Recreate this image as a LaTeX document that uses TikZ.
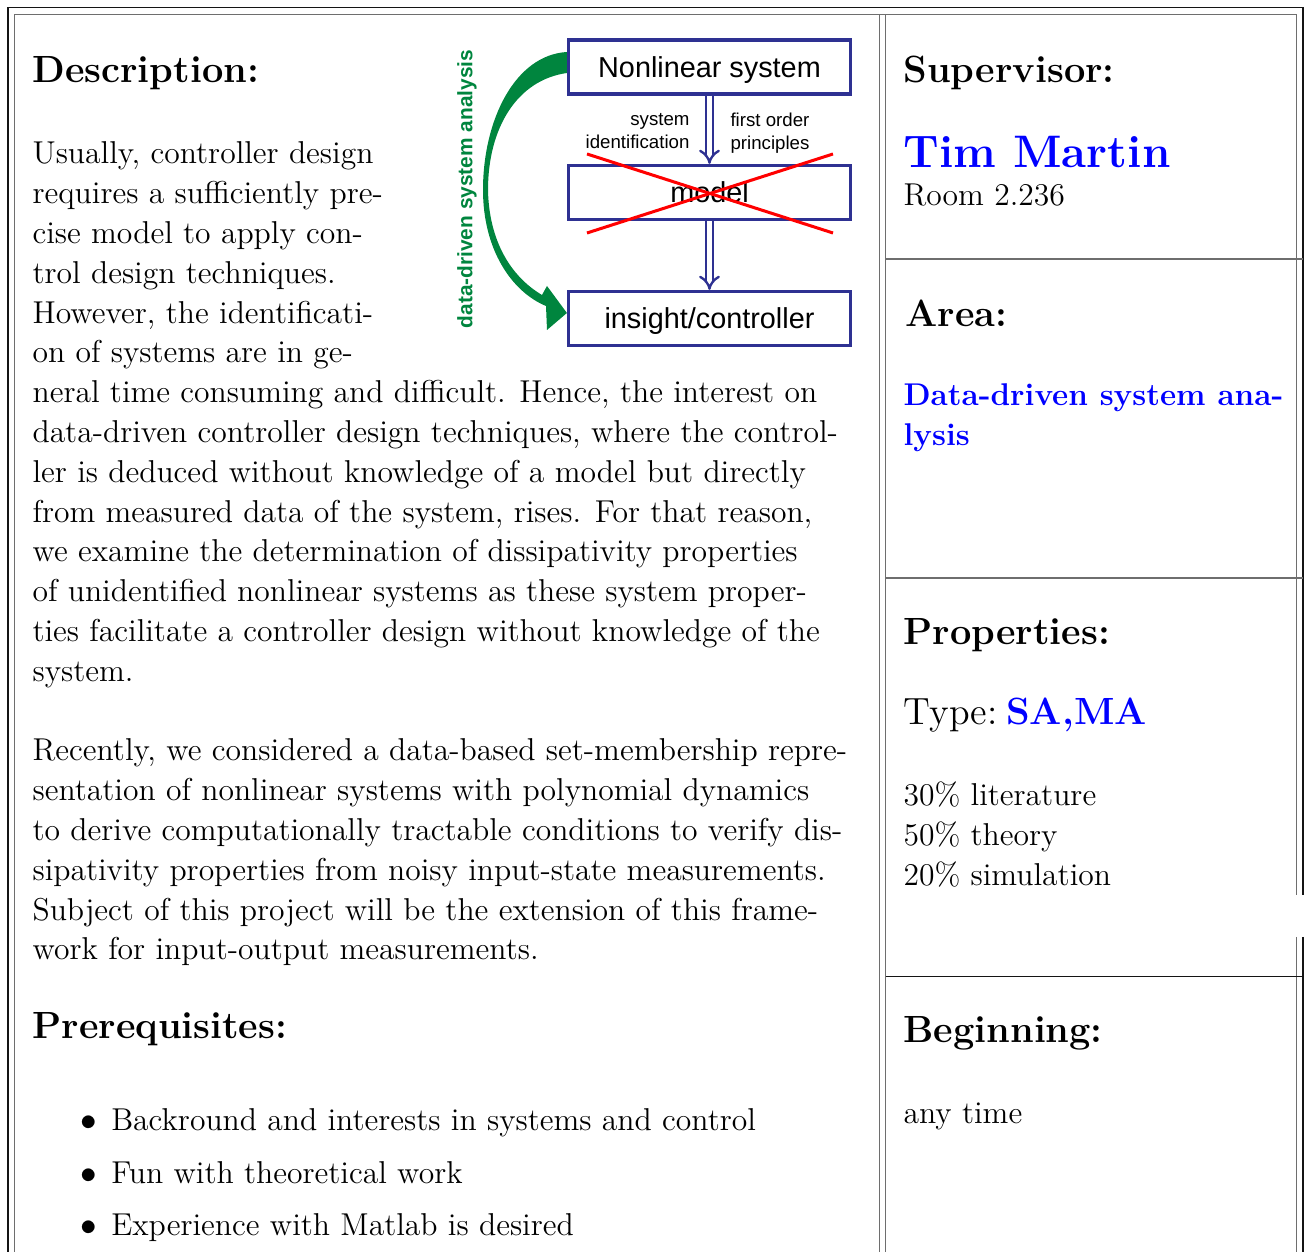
\documentclass[tikz,border=0pt]{standalone}
\usepackage{fontspec}
\newfontfamily\arialf{Liberation Sans}
\usetikzlibrary{arrows.meta}
\definecolor{navy}{RGB}{46,49,146}
\definecolor{dgreen}{RGB}{0,133,62}
\definecolor{frameA}{RGB}{20,20,20}
\definecolor{frameB}{RGB}{110,110,110}
\tikzset{
  body/.style={anchor=base west, inner sep=0pt, font=\fontsize{11.52}{14}\selectfont},
  head/.style={anchor=base west, inner sep=0pt, font=\fontsize{13.82}{17}\selectfont\bfseries},
  dbox/.style={draw=navy, line width=1.15pt, minimum width={282*0.3643pt}, minimum height={54*0.3643pt}, inner sep=0pt, text depth=0pt, font=\arialf\fontsize{10.5}{12}\selectfont},
  dlab/.style={inner sep=0pt, font=\arialf\fontsize{6.8}{8.4}\selectfont},
  dblarrow/.style={draw=navy, double=white, double distance=1.7pt, line width=0.85pt, -{Implies}},
  outerline/.style={draw=frameA, line width=0.5pt},
  innerline/.style={draw=frameB, line width=0.7pt},
}
\begin{document}
\begin{tikzpicture}[x=0.3643pt, y=-0.3643pt]
\useasboundingbox (0,0) rectangle (1307,1252);
% frame
\draw[outerline] (8,1252) -- (8,7.5) -- (1303,7.5) -- (1303,895);
\draw[outerline] (1303,937) -- (1303,1252);
\draw[innerline] (14.5,1252) -- (14.5,14.5) -- (1296.5,14.5) -- (1296.5,895);
\draw[innerline] (1296.5,937) -- (1296.5,1252);
\draw[innerline] (879.5,14.5) -- (879.5,1252);
\draw[innerline] (885.5,14.5) -- (885.5,1252);
\draw[innerline] (885.5,259) -- (1303,259);
\draw[innerline] (885.5,578) -- (1303,578);
\draw[outerline] (885.5,976.5) -- (1303,976.5);

% left column
\node[head] (hdesc) at (32,83) {Description:};
\node[body] (l1) at (32,164.0) {Usually, controller design};
\node[body] (l2) at (32,203.8) {requires a sufficiently pre-};
\node[body] (l3) at (32,243.6) {cise model to apply con-};
\node[body] (l4) at (32,283.4) {trol design techniques.};
\node[body] (l5) at (32,323.2) {However, the identificati-};
\node[body] (l6) at (32,363.0) {on of systems are in ge-};
\node[body] (l7) at (32,402.8) {neral time consuming and difficult. Hence, the interest on};
\node[body] (l8) at (32,442.6) {data-driven controller design techniques, where the control-};
\node[body] (l9) at (32,482.4) {ler is deduced without knowledge of a model but directly};
\node[body] (l10) at (32,522.2) {from measured data of the system, rises. For that reason,};
\node[body] (l11) at (32,562.0) {we examine the determination of dissipativity properties};
\node[body] (l12) at (32,601.8) {of unidentified nonlinear systems as these system proper-};
\node[body] (l13) at (32,641.6) {ties facilitate a controller design without knowledge of the};
\node[body] (l14) at (32,681.4) {system.};
\node[body] (r1) at (32,761.0) {Recently, we considered a data-based set-membership repre-};
\node[body] (r2) at (32,800.8) {sentation of nonlinear systems with polynomial dynamics};
\node[body] (r3) at (32,840.6) {to derive computationally tractable conditions to verify dis-};
\node[body] (r4) at (32,880.4) {sipativity properties from noisy input-state measurements.};
\node[body] (r5) at (32,920.2) {Subject of this project will be the extension of this frame-};
\node[body] (r6) at (32,960.0) {work for input-output measurements.};
\node[head] (hpre) at (32,1039) {Prerequisites:};
\node[body] (b1) at (80,1131) {$\bullet$\hspace{5.2pt}Backround and interests in systems and control};
\node[body] (b2) at (80,1183.5) {$\bullet$\hspace{5.2pt}Fun with theoretical work};
\node[body] (b3) at (80,1236) {$\bullet$\hspace{5.2pt}Experience with Matlab is desired};

% diagram
\node[dbox] (nls) at (709.5,67) {Nonlinear system};
\node[dbox] (mdl) at (709.5,192.5) {model};
\node[dbox] (ins) at (709.5,318.5) {insight/controller};
\draw[dblarrow] (nls.south) -- (mdl.north);
\draw[dblarrow] (mdl.south) -- (ins.north);
\node[dlab, anchor=east, align=right] (sid) at (690,131) {system\\identification};
\node[dlab, anchor=west, align=left] (fop) at (730,133) {first order\\principles};
\draw[red, line width=1.1pt] (587,154) -- (833,233);
\draw[red, line width=1.1pt] (587,233) -- (833,154);
\path (nls.west) ++(0,-15) coordinate (gA);
\path (nls.west) ++(0,6) coordinate (gB);
\path (ins.west) ++(0,-5.5) coordinate (gT);
\fill[dgreen] (gA) .. controls (515,55) and (483,120) .. (483,190)
  .. controls (483,250) and (512,292) .. (546,306) -- (547,330) -- (gT) -- (547,286) -- (542,295)
  .. controls (510,276) and (489,240) .. (488,190)
  .. controls (488,128) and (517,80) .. (gB) -- cycle;
\node[rotate=90, inner sep=0pt, text=dgreen, font=\arialf\bfseries\fontsize{7.6}{9}\selectfont] (dda) at (467,189) {data-driven system analysis};

% right column
\node[head] (hsup) at (903,83) {Supervisor:};
\node[anchor=base west, inner sep=0pt, text=blue, font=\fontsize{16.6}{20}\selectfont\bfseries] (tim) at (903,168) {Tim Martin};
\node[body] (room) at (903,206) {Room 2.236};
\node[head] (harea) at (905,327) {Area:};
\node[body, text=blue, font=\fontsize{11.45}{14}\selectfont\bfseries] (ar1) at (903,406) {Data-driven system ana-};
\node[body, text=blue, font=\fontsize{11.45}{14}\selectfont\bfseries] (ar2) at (903,445.8) {lysis};
\node[head] (hprop) at (903,645) {Properties:};
\node[anchor=base west, inner sep=0pt, font=\fontsize{13.82}{17}\selectfont] (type) at (903,725) {Type:\hspace{3.2pt}\textcolor{blue}{\bfseries SA,MA}};
\node[body] (p1) at (903,806) {30\% literature};
\node[body] (p2) at (903,845.8) {50\% theory};
\node[body] (p3) at (903,885.6) {20\% simulation};
\node[head] (hbeg) at (903,1043) {Beginning:};
\node[body] (any) at (903,1124) {any time};
\end{tikzpicture}
\end{document}
